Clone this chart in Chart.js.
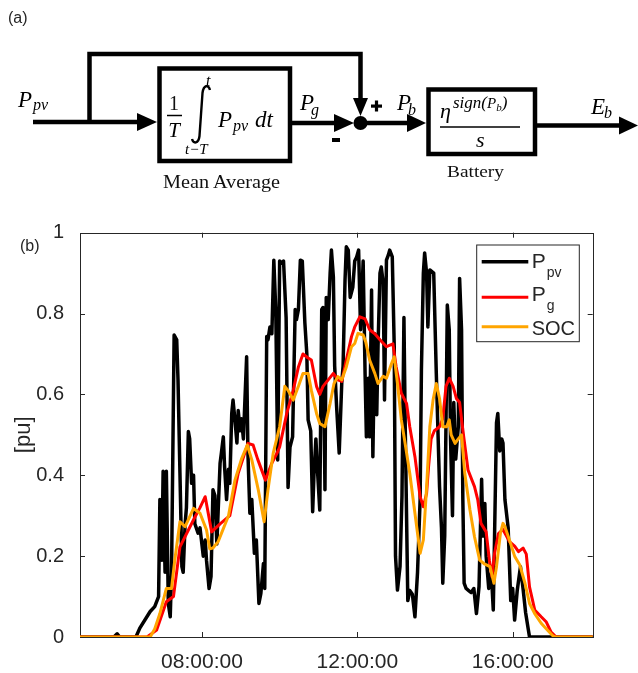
<!DOCTYPE html>
<html>
<head>
<meta charset="utf-8">
<script src="https://cdn.jsdelivr.net/npm/chart.js@4.4.1/dist/chart.umd.min.js"></script>
<style>
  html, body { margin: 0; padding: 0; background: #fff; }
  #page { position: relative; width: 638px; height: 673px; background: #fff; overflow: hidden; }
  #plot { position: absolute; left: 0; top: 200px; }
  #overlay { position: absolute; left: 0; top: 0; pointer-events: none; }
  .m { font-family: 'Liberation Serif', 'Times New Roman', serif; font-style: italic; fill: #000; }
  .r { font-family: 'Liberation Serif', 'Times New Roman', serif; fill: #111; }
  .s { font-family: 'Liberation Sans', Arial, sans-serif; fill: #262626; }
</style>
</head>
<body>
<div id="page">
  <canvas id="plot" width="638" height="473"></canvas>
  <svg id="overlay" width="638" height="673" viewBox="0 0 638 673">
    <!-- (a) block diagram -->
    <text class="s" x="8" y="23" font-size="16" fill="#333">(a)</text>
    <g stroke="#000" stroke-width="4.5" fill="none">
      <path d="M33,122 H140"/>
      <path d="M89.5,122 V54 H360.5 V100"/>
      <path d="M290,123 H336"/>
      <path d="M367,123 H409"/>
      <path d="M535,125.5 H621"/>
      <rect x="159.5" y="68.5" width="130.5" height="92.5"/>
      <rect x="428.5" y="89.5" width="106.5" height="64.5"/>
    </g>
    <g fill="#000">
      <polygon points="137,113 157,122 137,131"/>
      <polygon points="353,98 368,98 360.5,116"/>
      <polygon points="334,114 354,123 334,132"/>
      <polygon points="407,114 426,123 407,132"/>
      <polygon points="619,116.5 638,125.5 619,134.5"/>
      <circle cx="360.5" cy="123" r="7"/>
      <rect x="371" y="104.5" width="11" height="3.2"/>
      <rect x="374.9" y="100.5" width="3.2" height="11"/>
      <rect x="332" y="138" width="8" height="4"/>
    </g>
    <!-- P_pv input -->
    <text class="m" x="18" y="107" font-size="23">P</text>
    <text class="m" x="33" y="110" font-size="16">pv</text>
    <!-- moving mean block -->
    <text class="r" x="174" y="110" font-size="20" text-anchor="middle">1</text>
    <line x1="167" y1="115.5" x2="182" y2="115.5" stroke="#000" stroke-width="1.5"/>
    <text class="m" x="174" y="137" font-size="21" text-anchor="middle">T</text>
    <path d="M210,90 C208.5,84 203.5,85 202.5,93 L199.5,136 C198.5,144 193.5,144 192,139" stroke="#000" stroke-width="2.4" fill="none"/>
    <text class="m" x="206" y="86" font-size="16">t</text>
    <text class="m" x="185" y="154" font-size="15">t−T</text>
    <text class="m" x="218" y="127" font-size="23">P</text>
    <text class="m" x="233" y="131" font-size="16">pv</text>
    <text class="m" x="255" y="127" font-size="23">dt</text>
    <text class="r" x="163" y="188" font-size="18" textLength="117" lengthAdjust="spacingAndGlyphs">Mean Average</text>
    <!-- P_g, P_b -->
    <text class="m" x="300" y="110" font-size="23">P</text>
    <text class="m" x="311" y="115" font-size="16">g</text>
    <text class="m" x="397" y="110" font-size="23">P</text>
    <text class="m" x="408" y="115" font-size="16">b</text>
    <!-- battery block -->
    <text class="m" x="440" y="118" font-size="22">η</text>
    <text class="m" x="453" y="108" font-size="17">sign(<tspan font-size="15">P</tspan><tspan font-size="11" dy="3">b</tspan><tspan dy="-3">)</tspan></text>
    <line x1="440" y1="127" x2="520" y2="127" stroke="#000" stroke-width="1.5"/>
    <text class="m" x="476" y="147" font-size="22">s</text>
    <text class="r" x="447" y="177" font-size="17" textLength="57" lengthAdjust="spacingAndGlyphs">Battery</text>
    <!-- E_b output -->
    <text class="m" x="591" y="114" font-size="23">E</text>
    <text class="m" x="604" y="118" font-size="16">b</text>

    <!-- (b) label and legend -->
    <text class="s" x="20" y="251" font-size="16" fill="#333">(b)</text>
    <rect x="476.7" y="245" width="102.6" height="96.7" fill="#fff" stroke="#262626" stroke-width="1"/>
    <line x1="481.7" y1="261.7" x2="528.3" y2="261.7" stroke="#000" stroke-width="3.5"/>
    <line x1="481.7" y1="297.3" x2="528.3" y2="297.3" stroke="#ff0000" stroke-width="3"/>
    <line x1="481.7" y1="326.7" x2="528.3" y2="326.7" stroke="#ffa500" stroke-width="3"/>
    <text class="s" x="531.7" y="268.3" font-size="21" fill="#000">P</text>
    <text class="s" x="546.7" y="277" font-size="14" fill="#000">pv</text>
    <text class="s" x="531.7" y="300.7" font-size="21" fill="#000">P</text>
    <text class="s" x="546.7" y="309.5" font-size="14" fill="#000">g</text>
    <text class="s" x="531.7" y="335" font-size="20" fill="#000">SOC</text>
  </svg>
</div>
<script>
// Photovoltaic output, moving-average grid power and battery state of charge (per unit)
const pvTimes = ["04:50","05:44","05:49","05:53","06:18","06:24","06:40","06:47","06:53","06:55","06:58","07:00","07:03","07:05","07:08","07:11","07:13","07:17","07:21","07:23","07:26","07:29","07:31","07:34","07:36","07:39","07:41","07:44","07:47","07:49","07:54","07:57","08:02","08:05","08:07","08:11","08:14","08:17","08:20","08:23","08:25","08:28","08:30","08:33","08:35","08:38","08:41","08:43","08:46","08:48","08:51","08:54","08:56","08:59","09:01","09:04","09:09","09:11","09:14","09:17","09:21","09:24","09:28","09:31","09:35","09:37","09:40","09:42","09:45","09:48","09:51","09:54","09:57","10:00","10:03","10:06","10:10","10:13","10:16","10:20","10:24","10:26","10:29","10:32","10:35","10:39","10:42","10:44","10:48","10:51","10:53","10:56","10:58","11:02","11:05","11:07","11:10","11:12","11:15","11:18","11:20","11:23","11:25","11:28","11:32","11:36","11:38","11:41","11:43","11:46","11:49","11:53","11:56","11:59","12:02","12:05","12:09","12:12","12:14","12:17","12:19","12:22","12:24","12:27","12:30","12:32","12:35","12:37","12:40","12:42","12:45","12:48","12:50","12:54","12:57","12:59","13:02","13:06","13:09","13:12","13:14","13:18","13:21","13:25","13:29","13:33","13:37","13:39","13:42","13:44","13:47","13:49","13:52","13:58","14:02","14:07","14:10","14:12","14:15","14:19","14:22","14:24","14:27","14:29","14:32","14:36","14:38","14:41","14:43","14:45","14:48","14:52","14:56","15:00","15:04","15:08","15:12","15:14","15:17","15:19","15:23","15:27","15:30","15:32","15:35","15:37","15:40","15:43","15:45","15:48","15:53","15:57","16:00","16:03","16:07","16:12","16:16","16:20","16:24","16:26","18:05"];
const pvValues = [0,0,0.008,0,0,0.022,0.063,0.075,0.10,0.34,0.19,0.41,0.16,0.41,0.083,0.05,0.16,0.747,0.735,0.636,0.405,0.174,0.16,0.28,0.32,0.508,0.49,0.38,0.40,0.28,0.257,0.27,0.20,0.24,0.19,0.12,0.15,0.364,0.35,0.23,0.31,0.43,0.455,0.495,0.42,0.34,0.415,0.38,0.553,0.586,0.536,0.48,0.56,0.51,0.54,0.49,0.693,0.455,0.306,0.34,0.207,0.24,0.083,0.108,0.182,0.12,0.743,0.735,0.767,0.75,0.932,0.81,0.438,0.93,0.925,0.93,0.79,0.37,0.47,0.495,0.81,0.785,0.81,0.932,0.93,0.776,0.70,0.537,0.51,0.31,0.40,0.49,0.425,0.314,0.81,0.815,0.364,0.84,0.785,0.90,0.957,0.89,0.67,0.57,0.455,0.63,0.67,0.883,0.965,0.957,0.84,0.865,0.93,0.94,0.957,0.76,0.93,0.65,0.495,0.64,0.495,0.858,0.446,0.75,0.55,0.72,0.90,0.915,0.875,0.586,0.932,0.945,0.957,0.94,0.72,0.20,0.116,0.175,0.35,0.79,0.52,0.09,0.115,0.106,0.05,0.16,0.34,0.66,0.90,0.95,0.90,0.767,0.908,0.90,0.652,0.372,0.27,0.133,0.25,0.821,0.76,0.49,0.30,0.58,0.44,0.52,0.887,0.76,0.34,0.133,0.12,0.115,0.11,0.12,0.058,0.125,0.39,0.25,0.33,0.20,0.12,0.16,0.067,0.25,0.53,0.553,0.46,0.49,0.48,0.34,0.27,0.09,0.12,0.042,0.115,0.174,0.12,0.06,0.02,0,0];

const pgTimes = ["04:50","06:35","06:50","07:05","07:16","07:26","07:47","07:57","08:05","08:15","08:28","08:43","08:56","09:11","09:19","09:26","09:38","09:48","09:56","10:00","10:11","10:21","10:29","10:36","10:44","10:49","10:57","11:02","11:07","11:15","11:23","11:30","11:36","11:43","11:51","11:56","12:04","12:12","12:19","12:27","12:35","12:45","12:55","13:00","13:08","13:16","13:21","13:29","13:37","13:42","13:47","13:50","13:54","13:59","14:07","14:12","14:17","14:22","14:28","14:33","14:38","14:43","14:51","15:01","15:06","15:11","15:19","15:24","15:28","15:32","15:38","15:45","15:55","16:03","16:09","16:16","16:21","16:26","16:34","16:44","16:52","16:59","17:07","18:05"];
const pgValues = [0,0,0.017,0.087,0.10,0.223,0.29,0.32,0.347,0.26,0.28,0.30,0.405,0.479,0.475,0.44,0.388,0.43,0.455,0.47,0.553,0.61,0.668,0.70,0.69,0.685,0.62,0.60,0.62,0.636,0.652,0.636,0.632,0.685,0.743,0.767,0.792,0.787,0.76,0.75,0.735,0.718,0.725,0.668,0.603,0.578,0.52,0.446,0.347,0.322,0.355,0.42,0.49,0.51,0.52,0.54,0.62,0.64,0.62,0.59,0.58,0.512,0.413,0.372,0.34,0.281,0.26,0.19,0.149,0.207,0.256,0.266,0.236,0.225,0.211,0.22,0.205,0.124,0.067,0.05,0.037,0.013,0,0];

const socTimes = ["04:50","06:40","06:47","06:55","07:05","07:13","07:18","07:26","07:34","07:47","07:57","08:07","08:12","08:17","08:25","08:31","08:41","08:51","09:01","09:10","09:17","09:27","09:36","09:42","09:50","09:55","10:00","10:08","10:13","10:21","10:29","10:36","10:44","10:49","10:57","11:02","11:10","11:18","11:24","11:30","11:36","11:43","11:51","11:56","12:01","12:09","12:13","12:19","12:27","12:32","12:40","12:45","12:53","12:57","13:02","13:08","13:13","13:21","13:29","13:37","13:42","13:47","13:52","13:57","14:02","14:07","14:12","14:18","14:22","14:25","14:31","14:36","14:41","14:46","14:54","15:01","15:09","15:17","15:25","15:31","15:35","15:41","15:45","15:48","15:55","16:03","16:11","16:19","16:26","16:34","16:44","16:55","17:02","17:06","18:05"];
const socValues = [0,0,0.02,0.058,0.12,0.12,0.19,0.285,0.273,0.318,0.306,0.265,0.218,0.22,0.236,0.26,0.30,0.388,0.44,0.475,0.438,0.364,0.285,0.364,0.454,0.487,0.52,0.62,0.61,0.586,0.62,0.652,0.652,0.61,0.553,0.528,0.52,0.578,0.627,0.644,0.636,0.668,0.718,0.726,0.751,0.747,0.73,0.685,0.652,0.627,0.645,0.64,0.677,0.693,0.627,0.537,0.487,0.405,0.306,0.207,0.24,0.37,0.52,0.586,0.627,0.59,0.52,0.52,0.537,0.50,0.479,0.49,0.50,0.405,0.314,0.248,0.19,0.18,0.174,0.133,0.174,0.256,0.281,0.273,0.24,0.20,0.178,0.133,0.083,0.058,0.034,0.015,0.003,0,0];

// Time axis ticks (hours of day) and their labels
const xTickHours = [8, 12, 16];
const xTickLabels = ["08:00:00", "12:00:00", "16:00:00"];
const yTickValues = [0, 0.2, 0.4, 0.6, 0.8, 1];

const X_MIN = 4.86, X_MAX = 18.06;
const AXIS_COLOR = '#262626';

const toHours = t => { const [h, m] = t.split(':').map(Number); return h + m / 60; };
const toPoints = (times, values) => times.map((t, i) => ({ x: toHours(t), y: values[i] }));

Chart.defaults.font.family = "'Liberation Sans', Arial, sans-serif";
Chart.defaults.color = AXIS_COLOR;

// MATLAB-style box with inward tick marks
const axesFrame = {
  id: 'axesFrame',
  beforeDatasetsDraw(chart) {
    const { ctx, chartArea: { left, right, top, bottom }, scales: { x, y } } = chart;
    const len = 5;
    ctx.save();
    ctx.strokeStyle = AXIS_COLOR;
    ctx.lineWidth = 1;
    ctx.strokeRect(Math.round(left) + 0.5, Math.round(top) + 0.5,
                   Math.round(right) - Math.round(left), Math.round(bottom) - Math.round(top));
    ctx.beginPath();
    y.ticks.forEach(t => {
      const p = Math.round(y.getPixelForValue(t.value)) + 0.5;
      ctx.moveTo(left, p); ctx.lineTo(left + len, p);
      ctx.moveTo(right, p); ctx.lineTo(right - len, p);
    });
    x.ticks.forEach(t => {
      const p = Math.round(x.getPixelForValue(t.value)) + 0.5;
      ctx.moveTo(p, bottom); ctx.lineTo(p, bottom - len);
      ctx.moveTo(p, top); ctx.lineTo(p, top + len);
    });
    ctx.stroke();
    ctx.restore();
  }
};

new Chart(document.getElementById('plot'), {
  type: 'line',
  data: {
    datasets: [
      { label: 'Ppv', data: toPoints(pvTimes, pvValues), borderColor: '#000000', borderWidth: 3.5, order: 3 },
      { label: 'Pg', data: toPoints(pgTimes, pgValues), borderColor: '#ff0000', borderWidth: 3, order: 2 },
      { label: 'SOC', data: toPoints(socTimes, socValues), borderColor: '#ffa500', borderWidth: 3, order: 1 }
    ]
  },
  options: {
    responsive: false,
    animation: false,
    devicePixelRatio: 1,
    elements: {
      point: { radius: 0, hoverRadius: 0 },
      line: { tension: 0, borderJoinStyle: 'round', fill: false }
    },
    layout: { padding: { left: 0, right: 45.3, top: 32.7, bottom: 0 } },
    plugins: { legend: { display: false }, tooltip: { enabled: false } },
    scales: {
      x: {
        type: 'linear', min: X_MIN, max: X_MAX,
        grid: { display: false }, border: { display: false },
        afterBuildTicks: s => { s.ticks = xTickHours.map(v => ({ value: v })); },
        ticks: {
          callback: (v, i) => xTickLabels[i],
          font: { size: 21 }, color: AXIS_COLOR, padding: 5,
          maxRotation: 0, autoSkip: false
        },
        afterFit: s => { s.height = 36; }
      },
      y: {
        min: 0, max: 1,
        grid: { display: false }, border: { display: false },
        afterBuildTicks: s => { s.ticks = yTickValues.map(v => ({ value: v })); },
        ticks: {
          callback: v => String(Number(v.toFixed(1))),
          font: { size: 20 }, color: AXIS_COLOR, padding: 8
        },
        title: {
          display: true, text: '[pu]', color: AXIS_COLOR,
          font: { size: 22 }, padding: { top: 11, bottom: 0 }
        },
        afterFit: s => { s.width = 80; }
      }
    }
  },
  plugins: [axesFrame]
});
</script>
</body>
</html>
